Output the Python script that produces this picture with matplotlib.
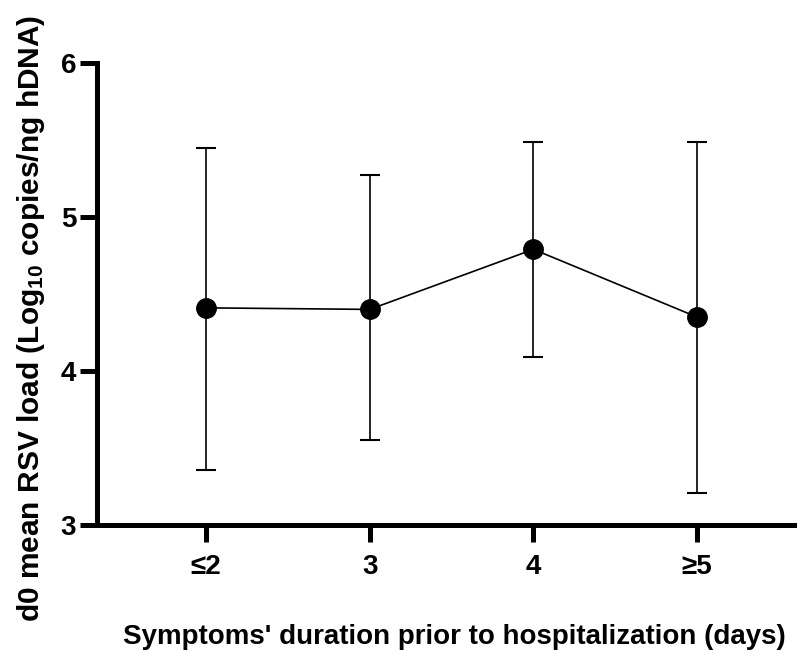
import matplotlib
matplotlib.use("Agg")
import matplotlib.pyplot as plt

# Data
categories = ['\u22642', '3', '4', '\u22655']
means = [4.41, 4.40, 4.79, 4.35]
upper = [5.45, 5.27, 5.49, 5.49]
lower = [3.36, 3.55, 4.09, 3.21]

plt.rcParams['font.family'] = ['Liberation Sans', 'DejaVu Sans']
plt.rcParams['font.weight'] = 'bold'
plt.rcParams['mathtext.fontset'] = 'custom'
plt.rcParams['mathtext.rm'] = 'Liberation Sans:bold'
plt.rcParams['mathtext.default'] = 'rm'

x = list(range(1, len(categories) + 1))
yerr = [[m - lo for m, lo in zip(means, lower)],
        [up - m for m, up in zip(means, upper)]]

fig = plt.figure(figsize=(7.97, 6.5), dpi=100)
ax = fig.add_axes([97 / 797, 1 - 525 / 650, 700 / 797, 462 / 650])

ax.errorbar(x, means, yerr=yerr, color='black', linewidth=1.2,
            elinewidth=1.2, capsize=7.5, capthick=1.5,
            marker='o', markersize=14, clip_on=False, zorder=3)

ax.set_xlim(0.334, 4.61)
ax.set_ylim(3, 6)
ax.set_yticks([3, 4, 5, 6])
ax.set_xticks(x)
ax.set_xticklabels(categories)

for side in ['top', 'right']:
    ax.spines[side].set_visible(False)
for side in ['left', 'bottom']:
    ax.spines[side].set_linewidth(3.6)
ax.spines['left'].set_capstyle('projecting')

ax.tick_params(axis='both', length=12, width=3.6, labelsize=20)
ax.tick_params(axis='y', pad=3)
ax.tick_params(axis='x', pad=9)

ax.set_ylabel('d0 mean RSV load (Log$_{10}$ copies/ng hDNA)', fontsize=21.5,
              fontweight='bold')
ax.yaxis.set_label_coords(-0.071, 0.448)
ax.set_xlabel("Symptoms' duration prior to hospitalization (days)", fontsize=20,
              fontweight='bold')
ax.xaxis.set_label_coords(0.51, -0.214)

fig.savefig('out.png', dpi=100)
